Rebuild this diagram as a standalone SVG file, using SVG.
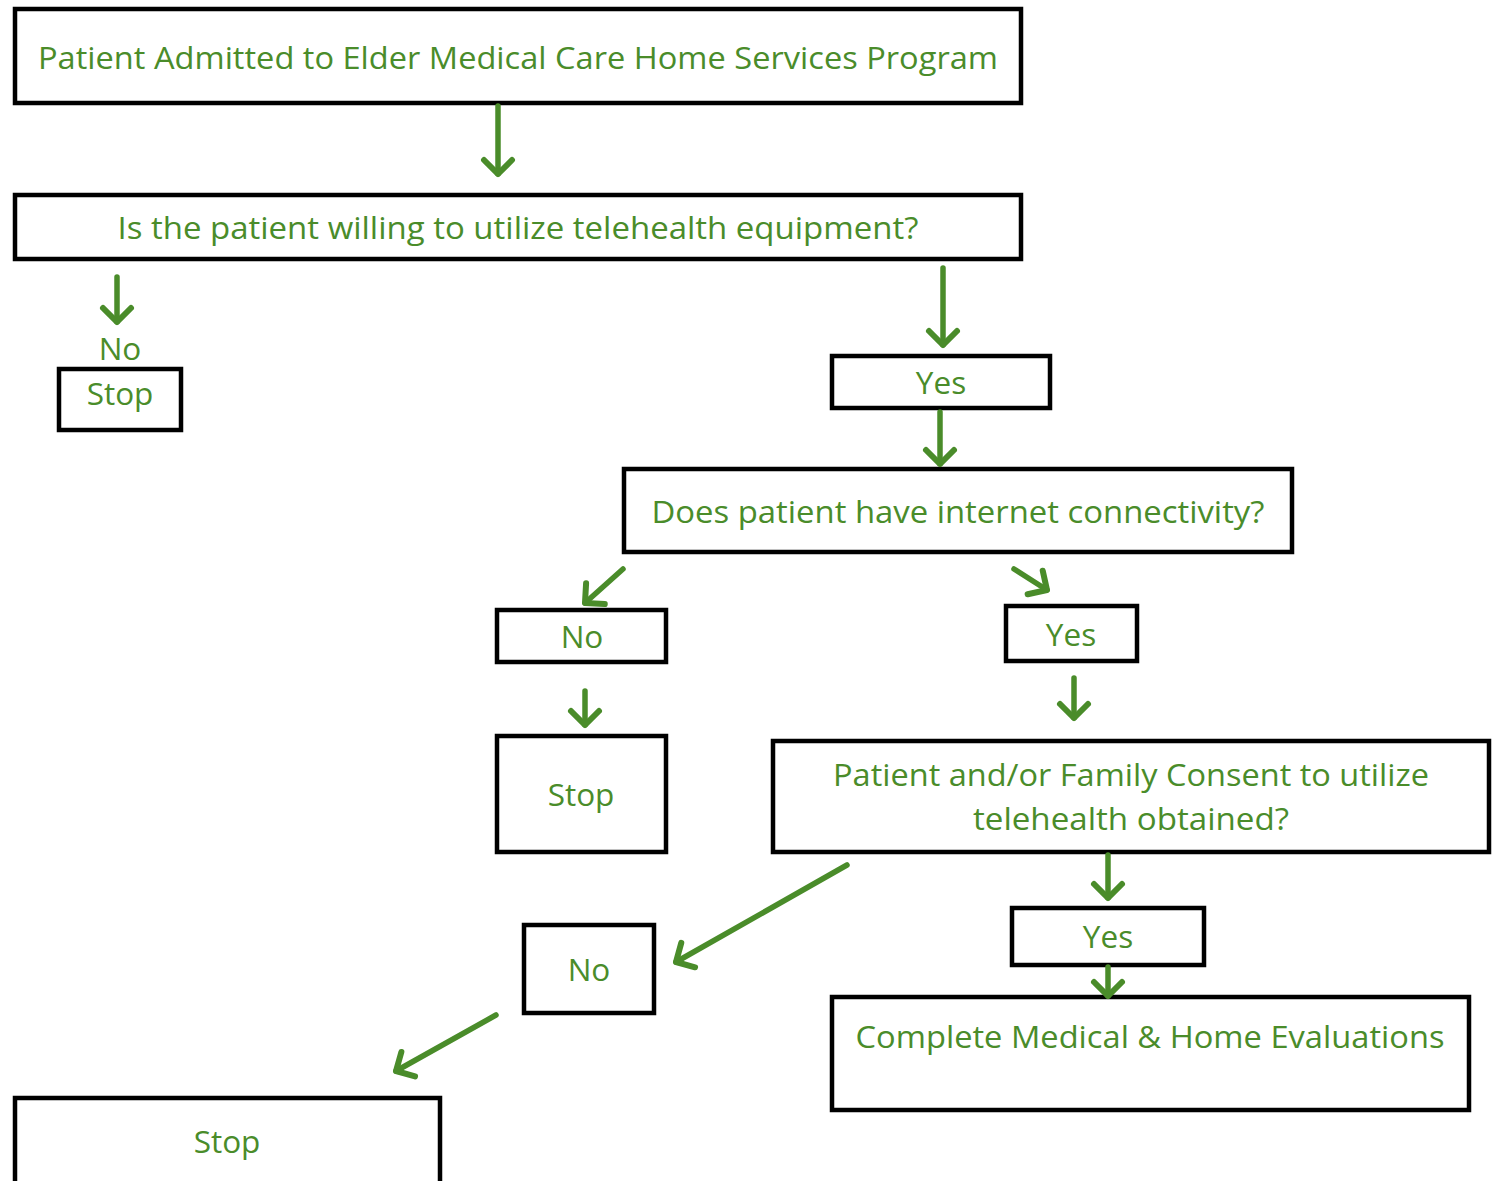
<svg xmlns="http://www.w3.org/2000/svg" width="1496" height="1181" viewBox="0 0 1496 1181">
<style>
.box{fill:#fff;stroke:#000;stroke-width:4.5}
.t{font-family:"Open Sans","Noto Sans",sans-serif;fill:#4a8c2a;text-anchor:middle;font-size:31.5px}
.c{stroke:#4a8c2a;stroke-width:5.5;fill:none;stroke-linecap:round;marker-end:url(#ah)}
</style>
<defs>
<marker id="ah" markerUnits="userSpaceOnUse" viewBox="0 0 26 30" markerWidth="26" markerHeight="30" refX="20" refY="15" orient="auto" overflow="visible">
<path d="M6,1 L20,15 L6,29" fill="none" stroke="#4a8c2a" stroke-width="6" stroke-linecap="round" stroke-linejoin="round"/>
</marker>
</defs>
<rect width="1496" height="1181" fill="#fff"/>
<g id="n1"><rect class="box" x="15" y="9" width="1006" height="94"/><text class="t" x="518" y="69" textLength="960" lengthAdjust="spacingAndGlyphs">Patient Admitted to Elder Medical Care Home Services Program</text></g>
<g id="n2"><rect class="box" x="15" y="195" width="1006" height="64"/><text class="t" x="518" y="239" textLength="801" lengthAdjust="spacingAndGlyphs">Is the patient willing to utilize telehealth equipment?</text></g>
<g id="n3"><text class="t" x="120" y="360">No</text><rect class="box" x="59" y="369" width="122" height="61"/><text class="t" x="120" y="405">Stop</text></g>
<g id="n4"><rect class="box" x="832" y="356" width="218" height="52"/><text class="t" x="941" y="394">Yes</text></g>
<g id="n5"><rect class="box" x="624" y="469" width="668" height="83"/><text class="t" x="958" y="523" textLength="613" lengthAdjust="spacingAndGlyphs">Does patient have internet connectivity?</text></g>
<g id="n6"><rect class="box" x="497" y="610" width="169" height="52"/><text class="t" x="582" y="648">No</text></g>
<g id="n7"><rect class="box" x="1006" y="606" width="131" height="55"/><text class="t" x="1071" y="646">Yes</text></g>
<g id="n8"><rect class="box" x="497" y="736" width="169" height="116"/><text class="t" x="581" y="806">Stop</text></g>
<g id="n9"><rect class="box" x="773" y="741" width="716" height="111"/><text class="t" x="1131" y="786" textLength="596" lengthAdjust="spacingAndGlyphs">Patient and/or Family Consent to utilize</text><text class="t" x="1131" y="830" textLength="316" lengthAdjust="spacingAndGlyphs">telehealth obtained?</text></g>
<g id="n10"><rect class="box" x="1012" y="908" width="192" height="57"/><text class="t" x="1108" y="948">Yes</text></g>
<g id="n11"><rect class="box" x="832" y="997" width="637" height="113"/><text class="t" x="1150" y="1048" textLength="589" lengthAdjust="spacingAndGlyphs">Complete Medical &amp; Home Evaluations</text></g>
<g id="n12"><rect class="box" x="524" y="925" width="130" height="88"/><text class="t" x="589" y="981">No</text></g>
<g id="n13"><rect class="box" x="15" y="1098" width="425" height="90"/><text class="t" x="227" y="1153">Stop</text></g>
<g id="connectors">
<line class="c" x1="498" y1="106" x2="498" y2="174"/>
<line class="c" x1="117" y1="277" x2="117" y2="322"/>
<line class="c" x1="943" y1="268" x2="943" y2="345"/>
<line class="c" x1="940" y1="412" x2="940" y2="464"/>
<line class="c" x1="623" y1="569" x2="585" y2="603"/>
<line class="c" x1="1014" y1="569" x2="1047" y2="590"/>
<line class="c" x1="585" y1="691" x2="585" y2="725"/>
<line class="c" x1="1074" y1="678" x2="1074" y2="718"/>
<line class="c" x1="1108" y1="855" x2="1108" y2="898"/>
<line class="c" x1="1108" y1="967" x2="1108" y2="996"/>
<line class="c" x1="847" y1="865" x2="676" y2="962"/>
<line class="c" x1="496" y1="1015" x2="396" y2="1071"/>
</g>
</svg>
